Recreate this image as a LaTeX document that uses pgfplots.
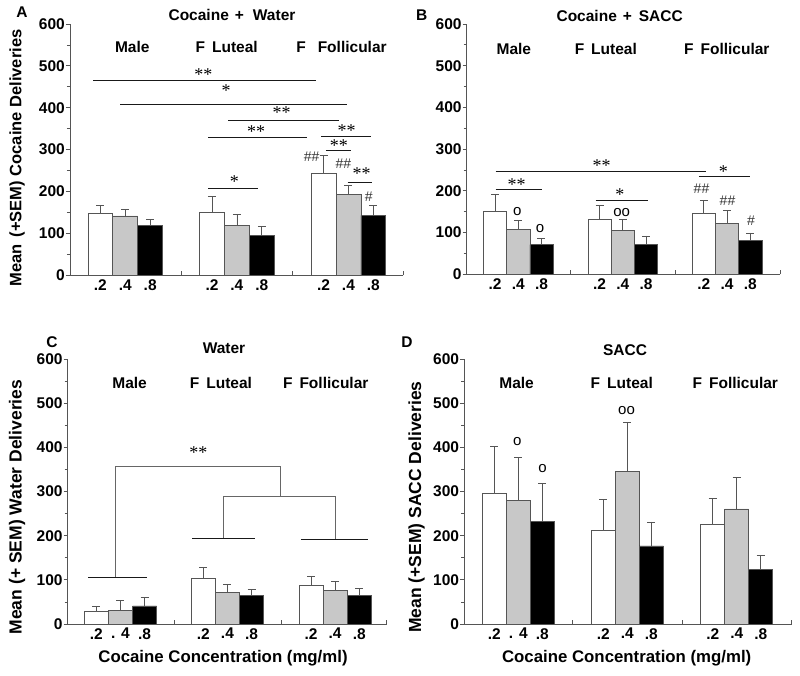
\documentclass[border=0pt]{standalone}
\usepackage{pgfplots}
\usepackage{pgfplotstable}
\pgfplotsset{compat=1.18}
\usepackage{fontspec}
\setmainfont{Liberation Sans}
\newfontfamily\serif{Liberation Serif}

\definecolor{axgray}{RGB}{85,85,85}
\definecolor{bargray}{RGB}{200,200,200}

\pgfplotstableread{
x wy we gy ge by be
1.22 148 18 141.6 15.4 118.6 14.4
5.70 151 37 119 27 95.5 20.5
10.18 243.5 43.5 193 22 143 24
}\tabA
\pgfplotstableread{
x wy we gy ge by be
1.22 151.8 40 107.9 21.5 71.1 14.4
5.72 132.6 32 104.7 26.3 71 20.9
10.21 146 32 122 31 81.5 17.5
}\tabB
\pgfplotstableread{
x wy we gy ge by be
1.19 28.7 12.1 30.2 22.7 40.8 19.7
5.63 104.3 24.2 72.5 17.4 64.2 14.4
10.10 86.9 21.9 76.3 19.7 64.2 15.9
}\tabC
\pgfplotstableread{
x wy we gy ge by be
1.25 296.2 107.3 280.4 97.5 232.8 86.1
5.79 212.4 69.5 345.4 112.6 176.8 54.4
10.35 226 59.7 260.7 71.1 123.2 32.5
}\tabD

\pgfplotsset{
  panel/.style={
    scale only axis, clip=false,
    axis x line=bottom, axis y line=left,
    axis line style={-, draw=axgray, line width=0.8pt},
    ymin=0, ymax=600, ytick={0,100,...,600}, minor y tick num=1,
    ytick align=outside, xtick align=inside,
    tick style={draw=axgray, line width=0.8pt},
    major tick length=4pt, minor tick length=3pt,
    xmin=0,
    /pgf/number format/assume math mode=true,
    tick label style={font=\bfseries\fontsize{15.5}{15.5}\selectfont},
    yticklabel style={inner sep=1pt},
    xticklabel style={inner sep=1pt, yshift=-3pt},
    xticklabels={,,},
    extra x tick style={major tick length=0pt},
  },
  barbase/.style={ybar, bar width=1, bar shift=0pt, draw=axgray, line width=0.7pt,
    error bars/y dir=plus, error bars/y explicit,
    error bars/error bar style={draw=axgray, line width=0.7pt, fill=none},
    error bars/error mark options={draw=axgray, rotate=90, mark size=4pt, line width=0.7pt}},
  wbar/.style={barbase, fill=white},
  gbar/.style={barbase, fill=bargray},
  kbar/.style={barbase, fill=black},
}
\tikzset{
  sig/.style={draw=black!90, line width=1pt},
  brk/.style={draw=black!60, line width=0.8pt},
  st/.style={font=\serif\fontsize{18}{18}\selectfont, inner sep=0pt, yshift=-2.5pt},
  hs/.style={font=\fontsize{14}{14}\selectfont, inner sep=0pt, text=black!80},
  oo/.style={font=\fontsize{15}{15}\selectfont, inner sep=0pt},
  grp/.style={font=\bfseries\fontsize{15.5}{15.5}\selectfont, inner sep=0pt},
  ttl/.style={font=\bfseries\fontsize{15.5}{15.5}\selectfont, inner sep=0pt},
}

\begin{document}
\begin{tikzpicture}
\useasboundingbox (0pt,0pt) rectangle (800pt,676pt);

% ---------------- Panel A
\begin{axis}[panel, at={(70pt,400.7pt)}, anchor=south west, width=333pt, height=251.3pt, xmax=13.37,
  xtick={4.48,8.94,13.37},
  extra x ticks={1.22,2.22,3.22,5.70,6.70,7.70,10.18,11.18,12.18},
  extra x tick labels={.2,.4,.8,.2,.4,.8,.2,.4,.8}]
\addplot[wbar] table[x=x, y=wy, y error plus=we]{\tabA};
\addplot[gbar] table[x expr=\thisrow{x}+1, y=gy, y error plus=ge]{\tabA};
\addplot[kbar] table[x expr=\thisrow{x}+2, y=by, y error plus=be]{\tabA};
\node[grp] at (axis cs:2.5,546) {Male};
\node[grp] at (axis cs:6.29,546) {F\hspace{7pt}Luteal};
\node[grp] at (axis cs:10.9,546) {F\hspace{12pt}Follicular};
\draw[sig] (axis cs:0.94,466) -- (axis cs:9.88,466);
\draw[sig] (axis cs:2.01,408) -- (axis cs:11.11,408);
\draw[sig] (axis cs:6.36,369) -- (axis cs:10.80,369);
\draw[sig] (axis cs:5.55,329) -- (axis cs:9.51,329);
\draw[sig] (axis cs:10.08,331) -- (axis cs:12.09,331);
\draw[sig] (axis cs:10.27,297) -- (axis cs:11.29,297);
\draw[sig] (axis cs:11.15,221) -- (axis cs:12.14,221);
\draw[sig] (axis cs:5.55,208) -- (axis cs:7.56,208);
\node[st] at (axis cs:5.35,484) {**};
\node[st] at (axis cs:6.27,446) {*};
\node[st] at (axis cs:8.5,395) {**};
\node[st] at (axis cs:7.47,348) {**};
\node[st] at (axis cs:11.11,352) {**};
\node[st] at (axis cs:10.8,315) {**};
\node[st] at (axis cs:11.71,249) {**};
\node[st] at (axis cs:6.6,230) {*};
\node[hs] at (axis cs:9.7,283) {\#\#};
\node[hs] at (axis cs:10.98,267) {\#\#};
\node[hs] at (axis cs:12.0,188) {\#};
\end{axis}

% ---------------- Panel B
\begin{axis}[panel, at={(466.7pt,401.7pt)}, anchor=south west, width=313.3pt, height=250.3pt, xmax=13.49,
  xtick={4.47,8.97,13.49},
  extra x ticks={1.22,2.22,3.22,5.72,6.72,7.72,10.21,11.21,12.21},
  extra x tick labels={.2,.4,.8,.2,.4,.8,.2,.4,.8}]
\addplot[wbar] table[x=x, y=wy, y error plus=we]{\tabB};
\addplot[gbar] table[x expr=\thisrow{x}+1, y=gy, y error plus=ge]{\tabB};
\addplot[kbar] table[x expr=\thisrow{x}+2, y=by, y error plus=be]{\tabB};
\node[grp] at (axis cs:2.03,539) {Male};
\node[grp] at (axis cs:5.99,539) {F\hspace{7pt}Luteal};
\node[grp] at (axis cs:11.2,539) {F\hspace{7pt}Follicular};
\draw[sig] (axis cs:1.25,247.6) -- (axis cs:10.29,247.6);
\draw[sig] (axis cs:10.0,234) -- (axis cs:12.2,234);
\draw[sig] (axis cs:1.25,204) -- (axis cs:3.23,204);
\draw[sig] (axis cs:5.55,177) -- (axis cs:7.82,177);
\node[st] at (axis cs:5.81,266) {**};
\node[st] at (axis cs:11.05,252) {*};
\node[st] at (axis cs:2.15,222) {**};
\node[st] at (axis cs:6.6,196) {*};
\node[oo] at (axis cs:2.18,150) {o};
\node[oo] at (axis cs:3.16,109.5) {o};
\node[oo] at (axis cs:6.67,149) {oo};
\node[hs] at (axis cs:10.11,204) {\#\#};
\node[hs] at (axis cs:11.23,177) {\#\#};
\node[hs] at (axis cs:12.24,129) {\#};
\end{axis}

% ---------------- Panel C
\begin{axis}[panel, at={(67.7pt,52pt)}, anchor=south west, width=319pt, height=264.7pt, xmax=13.24,
  xtick={4.41,8.87,13.24},
  extra x ticks={1.19,2.19,3.19,5.63,6.63,7.63,10.10,11.10,12.10},
  extra x tick labels={.2,. 4,.8,.2,.4,.8,.2,.4,.8}]
\addplot[wbar] table[x=x, y=wy, y error plus=we]{\tabC};
\addplot[gbar] table[x expr=\thisrow{x}+1, y=gy, y error plus=ge]{\tabC};
\addplot[kbar] table[x expr=\thisrow{x}+2, y=by, y error plus=be]{\tabC};
\node[grp] at (axis cs:2.57,547) {Male};
\node[grp] at (axis cs:6.36,547) {F\hspace{7pt}Luteal};
\node[grp] at (axis cs:10.71,547) {F\hspace{7pt}Follicular};
\draw[brk] (axis cs:1.99,105) -- (axis cs:1.99,356.7) -- (axis cs:8.81,356.7) -- (axis cs:8.81,290.2);
\draw[brk] (axis cs:6.46,192.7) -- (axis cs:6.46,290.2) -- (axis cs:11.13,290.2) -- (axis cs:11.13,190.4);
\draw[sig] (axis cs:0.86,105) -- (axis cs:3.28,105);
\draw[sig] (axis cs:5.17,192.7) -- (axis cs:7.77,192.7);
\draw[sig] (axis cs:9.68,190.4) -- (axis cs:12.45,190.4);
\node[st] at (axis cs:5.42,394.5) {**};
\end{axis}

% ---------------- Panel D
\begin{axis}[panel, at={(464.3pt,52pt)}, anchor=south west, width=327.4pt, height=264.7pt, xmax=13.64,
  xtick={4.52,9.07,13.64},
  extra x ticks={1.25,2.25,3.25,5.79,6.79,7.79,10.35,11.35,12.35},
  extra x tick labels={.2,. 4,.8,.2,.4,.8,.2,.4,.8}]
\addplot[wbar] table[x=x, y=wy, y error plus=we]{\tabD};
\addplot[gbar] table[x expr=\thisrow{x}+1, y=gy, y error plus=ge]{\tabD};
\addplot[kbar] table[x expr=\thisrow{x}+2, y=by, y error plus=be]{\tabD};
\node[grp] at (axis cs:2.18,546) {Male};
\node[grp] at (axis cs:6.56,546) {F\hspace{7pt}Luteal};
\node[grp] at (axis cs:11.29,546) {F\hspace{7pt}Follicular};
\node[oo] at (axis cs:2.21,413) {o};
\node[oo] at (axis cs:3.26,353) {o};
\node[oo] at (axis cs:6.76,484) {oo};
\end{axis}

% ---------------- titles, letters, axis labels
\node[ttl] at (22pt,664pt) {A};
\node[ttl] at (232pt,661.3pt) {Cocaine\hspace{6pt}+\hspace{9pt}Water};
\node[font=\bfseries\fontsize{16.5}{16.5}\selectfont, rotate=90, inner sep=0pt] at (17pt,518pt) {Mean\hspace{7pt}(+SEM) Cocaine Deliveries};
\node[ttl] at (421.7pt,661pt) {B};
\node[ttl] at (619.7pt,660pt) {Cocaine\hspace{6pt}+\hspace{7pt}SACC};
\node[ttl] at (52pt,334.3pt) {C};
\node[ttl] at (224pt,327.7pt) {Water};
\node[font=\bfseries\fontsize{17.5}{17.5}\selectfont, rotate=90, inner sep=0pt] at (17pt,169pt) {Mean (+ SEM) Water Deliveries};
\node[font=\bfseries\fontsize{16.8}{16.8}\selectfont, inner sep=0pt] at (223pt,18pt) {Cocaine Concentration (mg/ml)};
\node[ttl] at (407pt,334.3pt) {D};
\node[ttl] at (625pt,326pt) {SACC};
\node[font=\bfseries\fontsize{17.5}{17.5}\selectfont, rotate=90, inner sep=0pt] at (416.7pt,169pt) {Mean (+SEM) SACC Deliveries};
\node[font=\bfseries\fontsize{16.8}{16.8}\selectfont, inner sep=0pt] at (626.7pt,18pt) {Cocaine Concentration (mg/ml)};
\end{tikzpicture}
\end{document}
